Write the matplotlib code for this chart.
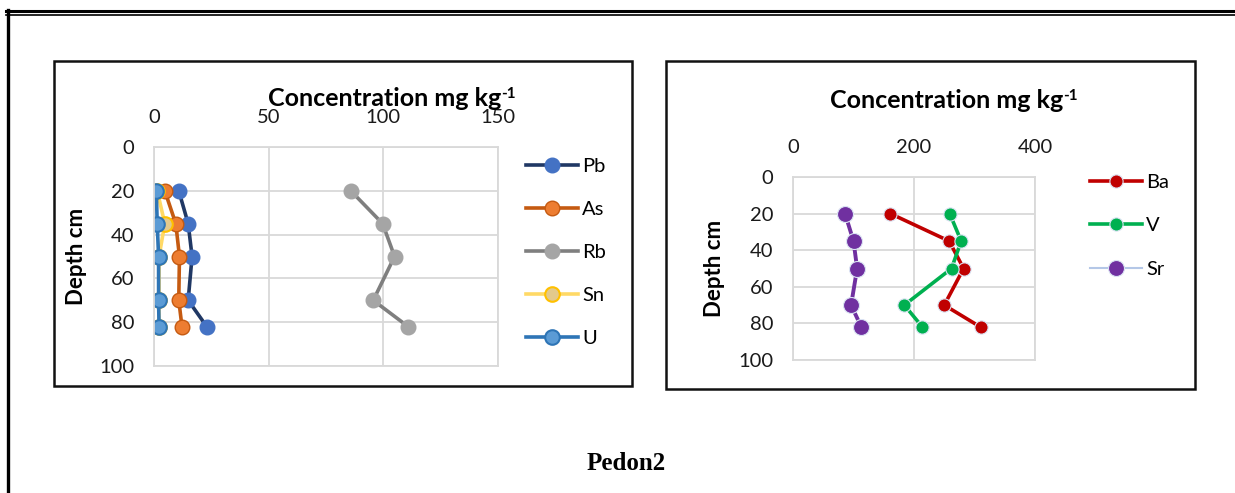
import matplotlib.pyplot as plt
from matplotlib.lines import Line2D
from matplotlib.patches import Rectangle

plt.rcParams['font.family'] = ['Lato', 'DejaVu Sans']

W, H = 1235, 493

# depths (cm) and concentrations (mg/kg), Pedon 2
depth = [20, 35, 50, 70, 82]
pb = [10.8, 14.9, 16.6, 14.9, 23.0]
as_ = [4.7, 9.5, 11.1, 10.8, 12.2]
rb = [85.8, 99.7, 104.9, 95.6, 110.8]
sn = [1.4, 4.7, 2.2, 2.2, 2.2]
u = [1.0, 1.4, 2.0, 2.0, 2.2]
ba = [161, 258, 282, 250, 310]
v = [259, 278, 262, 184, 214]
sr = [86, 100, 106, 96, 113]

left_ticks = [0, 50, 100, 150]
right_ticks = [0, 200, 400]
depth_ticks = [0, 20, 40, 60, 80, 100]


def fx(x):
    return x / W


def fy(y):
    return 1 - y / H


def box(x0, y0, x1, y1):
    return [fx(x0), fy(y1), fx(x1) - fx(x0), fy(y0) - fy(y1)]


fig = plt.figure(figsize=(W / 100, H / 100), dpi=100)

# outer frame (double top rule + left rule)
fig.add_artist(Line2D([fx(6), 1], [fy(11), fy(11)], color='black', lw=2.2))
fig.add_artist(Line2D([fx(6), 1], [fy(14.5), fy(14.5)], color='black', lw=1.2))
fig.add_artist(Line2D([fx(7.5), fx(7.5)], [fy(10), 0], color='black', lw=2.4))

# chart frames
for x0, y0, x1, y1 in [(54, 61, 632, 386), (666, 61, 1195, 389)]:
    fig.add_artist(Rectangle((fx(x0), fy(y1)), fx(x1) - fx(x0), fy(y0) - fy(y1),
                             transform=fig.transFigure, fill=False,
                             edgecolor='#111111', lw=1.8))


def style(ax, xmax, xticks):
    ax.set_xlim(0, xmax)
    ax.set_ylim(100, 0)
    ax.set_xticks(xticks)
    ax.set_yticks(depth_ticks)
    ax.xaxis.tick_top()
    ax.grid(True, color='#d9d9d9', lw=1.3)
    ax.set_axisbelow(True)
    for s in ax.spines.values():
        s.set_color('#d9d9d9')
        s.set_linewidth(1.3)
    ax.tick_params(length=0, labelsize=14.5, colors='#1a1a1a')
    ax.tick_params(axis='x', pad=15)
    ax.tick_params(axis='y', pad=14)


def title(x, y):
    t = fig.text(fx(x), fy(y), 'Concentration mg kg', fontsize=18,
                 fontweight='bold', ha='center', va='center')
    fig.add_artist(plt.Annotation('-1', xy=(1.0, 0.98), xycoords=t,
                                  fontsize=11, fontweight='bold',
                                  ha='left', va='top'))


# ---- left chart
ax1 = fig.add_axes(box(154, 147, 498, 366))
style(ax1, 150, left_ticks)
ms = 10.5
ax1.plot(pb, depth, '-o', color='#203864', lw=2.6, ms=ms,
         mfc='#4472C4', mec='#4472C4', label='Pb')
ax1.plot(as_, depth, '-o', color='#C55A11', lw=2.6, ms=ms,
         mfc='#ED7D31', mec='#C55A11', label='As')
ax1.plot(rb, depth, '-o', color='#7F7F7F', lw=2.6, ms=ms,
         mfc='#A5A5A5', mec='#A5A5A5', label='Rb')
ax1.plot(sn, depth, '-o', color='#FFD966', lw=2.6, ms=ms,
         mfc='#E3C98C', mec='#FFC000', mew=1.5, label='Sn')
ax1.plot(u, depth, '-o', color='#2E75B6', lw=2.6, ms=ms,
         mfc='#5B9BD5', mec='#2E75B6', mew=1.5, label='U')
ax1.set_ylabel('Depth cm', fontsize=16, fontweight='bold')
ax1.yaxis.set_label_coords((87 - 154) / (498 - 154), 0.5)
title(385, 98)
ax1.legend(loc='upper left', bbox_to_anchor=(fx(526), fy(158)),
           bbox_transform=fig.transFigure, frameon=False, fontsize=14.5,
           handlelength=2.6, handletextpad=0.2, labelspacing=1.28,
           borderaxespad=0, borderpad=0)

# ---- right chart
ax2 = fig.add_axes(box(793, 177, 1035, 360))
style(ax2, 400, right_ticks)
l_ba, = ax2.plot(ba, depth, '-o', color='#C00000', lw=2.6, ms=9.5,
                 mfc='#C00000', mec='#DAE3F3', mew=0.8, label='Ba')
l_v, = ax2.plot(v, depth, '-o', color='#00B050', lw=2.6, ms=9.5,
                mfc='#00B050', mec='#DAE3F3', mew=0.8, label='V')
ax2.plot(sr, depth, '-o', color='#7030A0', lw=2.8, ms=11.5,
         mfc='#7030A0', mec='#DAE3F3', mew=0.8)
h_sr = Line2D([], [], color='#B4C7E7', lw=1.5, marker='o', ms=11.5,
              mfc='#7030A0', mec='#DAE3F3', mew=0.8)
ax2.set_ylabel('Depth cm', fontsize=16, fontweight='bold')
ax2.yaxis.set_label_coords((725 - 793) / (1035 - 793), 0.5)
title(947, 100)
ax2.legend([l_ba, l_v, h_sr], ['Ba', 'V', 'Sr'], loc='upper left',
           bbox_to_anchor=(fx(1090), fy(174)), bbox_transform=fig.transFigure,
           frameon=False, fontsize=14.5, handlelength=2.6, handletextpad=0.2,
           labelspacing=1.3, borderaxespad=0, borderpad=0)

fig.text(fx(626), fy(463), 'Pedon2', fontsize=18, fontweight='bold',
         family='Liberation Serif', ha='center', va='center')

fig.savefig('out.png', dpi=100)
